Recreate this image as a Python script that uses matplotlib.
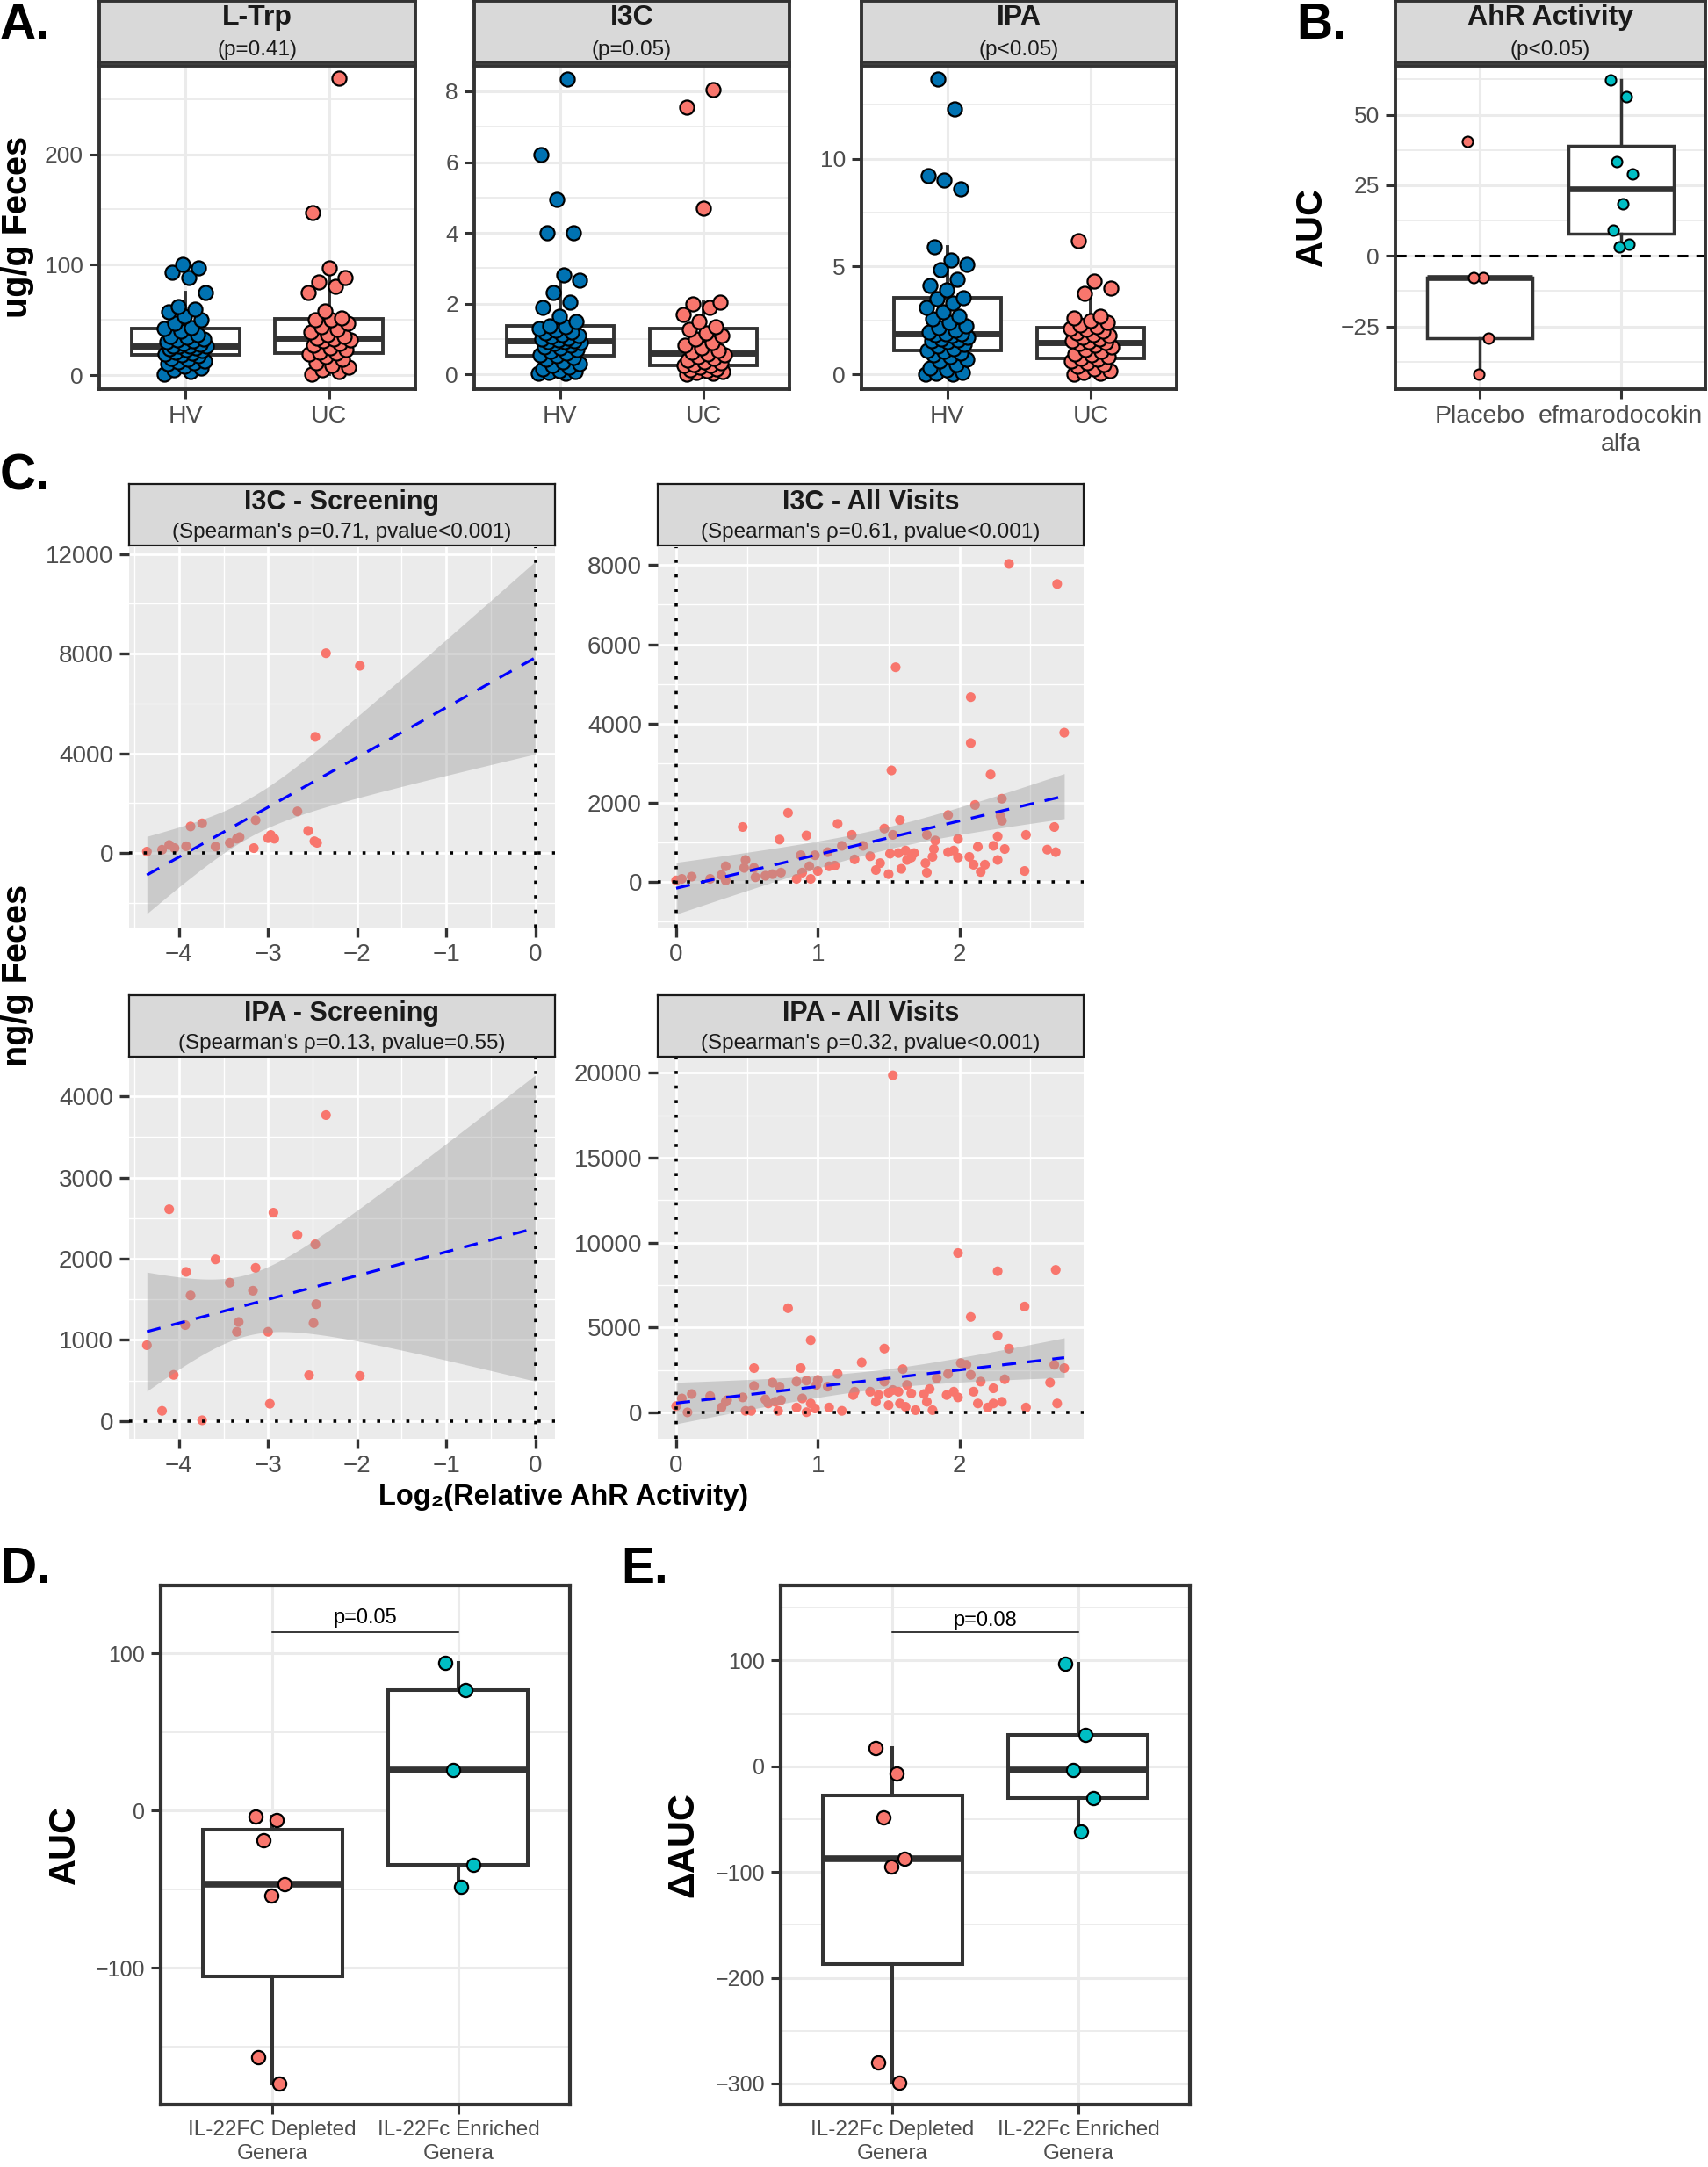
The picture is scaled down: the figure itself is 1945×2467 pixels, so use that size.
import numpy as np
import matplotlib
matplotlib.use('Agg')
import matplotlib.pyplot as plt
from matplotlib.ticker import FuncFormatter

plt.rcParams['font.family'] = ['Liberation Sans', 'DejaVu Sans']

# ---------------- DATA ----------------
groups_A = ['HV', 'UC']
ltrp_hv = [1, 3, 5, 6, 8, 10, 11, 12, 13, 14, 15, 17.5, 18.5, 19, 20, 21, 22, 23, 24, 25, 26, 26.5,
           26.55, 26.6, 28, 29, 30, 31, 32, 33, 34, 35, 37, 40, 42, 43, 47, 50, 53, 57, 60, 62, 75, 88,
           93, 97, 100]
ltrp_uc = [1, 3, 5, 7, 9, 11, 14, 17, 19, 20, 21, 23, 25, 27, 29, 31, 32, 33, 33.5, 35, 37, 39, 41,
           44, 47, 50, 50.5, 52, 58, 75, 80, 84, 88, 97, 147, 269]
i3c_hv = [0.02, 0.03, 0.05, 0.08, 0.1, 0.15, 0.2, 0.25, 0.3, 0.35, 0.42, 0.48, 0.52, 0.56, 0.6, 0.65,
          0.7, 0.74, 0.78, 0.82, 0.86, 0.9, 0.92, 0.93, 0.94, 0.97, 1.0, 1.03, 1.06, 1.1, 1.13, 1.16,
          1.2, 1.25, 1.3, 1.35, 1.38, 1.5, 1.65, 1.9, 2.05, 2.3, 2.65, 2.8, 4.0, 4.0, 4.95, 6.2, 8.35]
i3c_uc = [0.01, 0.03, 0.05, 0.08, 0.1, 0.13, 0.16, 0.19, 0.24, 0.25, 0.28, 0.32, 0.36, 0.4, 0.45, 0.5,
          0.55, 0.58, 0.62, 0.68, 0.75, 0.82, 0.9, 1.0, 1.1, 1.18, 1.27, 1.35, 1.5, 1.7, 1.9, 2.0,
          2.05, 4.7, 7.55, 8.05]
ipa_hv = [0.0, 0.02, 0.05, 0.1, 0.2, 0.3, 0.45, 0.6, 0.7, 0.8, 0.9, 1.0, 1.08, 1.12, 1.2, 1.3, 1.4,
          1.5, 1.55, 1.6, 1.65, 1.7, 1.78, 1.85, 1.87, 1.89, 1.95, 2.05, 2.15, 2.25, 2.4, 2.55, 2.7,
          2.9, 3.1, 3.3, 3.5, 3.55, 3.9, 4.1, 4.4, 4.85, 5.1, 5.3, 5.9, 8.6, 9.0, 9.2, 12.3, 13.7]
ipa_uc = [0.0, 0.03, 0.08, 0.15, 0.25, 0.35, 0.45, 0.55, 0.62, 0.7, 0.73, 0.8, 0.88, 0.95, 1.05, 1.15,
          1.25, 1.35, 1.42, 1.45, 1.49, 1.55, 1.62, 1.7, 1.78, 1.85, 1.92, 2.0, 2.08, 2.13, 2.2, 2.3,
          2.4, 2.5, 2.6, 2.7, 3.75, 4.0, 4.3, 6.2]

groups_B = ['Placebo', 'efmarodocokin\nalfa']
auc_placebo = [40.4, -7.6, -7.8, -29.0, -41.8]
auc_efmaro = [62.4, 56.3, 33.3, 28.9, 18.4, 9.2, 4.2, 3.1]

i3c_scr_x = [-4.36, -4.19, -4.11, -4.05, -3.92, -3.87, -3.74, -3.59, -3.43, -3.35, -3.32, -3.14, -3.16,
             -3.00, -2.97, -2.93, -2.67, -2.55, -2.48, -2.45, -2.47, -2.35, -1.97]
i3c_scr_y = [50, 126, 316, 190, 265, 1060, 1186, 252, 404, 568, 631, 1312, 190, 593, 719, 568, 1666,
             883, 467, 404, 4657, 8014, 7509]

i3c_all_x = [0.00, 0.04, 0.11, 0.24, 0.32, 0.35, 0.35, 0.47, 0.49, 0.48, 0.55, 0.56, 0.63, 0.68, 0.73,
             0.74, 0.79, 0.85, 0.88, 0.89, 0.92, 0.94, 0.95, 0.98, 1.00, 1.07, 1.08, 1.12, 1.14, 1.17,
             1.24, 1.26, 1.32, 1.37, 1.41, 1.44, 1.47, 1.50, 1.51, 1.52, 1.53, 1.55, 1.57, 1.58, 1.59,
             1.62, 1.63, 1.66, 1.68, 1.76, 1.77, 1.77, 1.81, 1.82, 1.83, 1.92, 1.92, 1.96, 1.99, 1.99,
             2.07, 2.08, 2.08, 2.10, 2.11, 2.13, 2.15, 2.18, 2.22, 2.24, 2.27, 2.27, 2.29, 2.30, 2.32,
             2.30, 2.35, 2.46, 2.47, 2.62, 2.67, 2.68, 2.69, 2.74]
i3c_all_y = [40, 79, 135, 79, 175, 397, 40, 1389, 556, 357, 357, 119, 159, 198, 1071, 238, 1746, 79,
             675, 238, 1175, 397, 79, 675, 278, 754, 397, 413, 1468, 913, 1190, 571, 913, 651, 302,
             476, 1349, 198, 714, 2818, 1190, 5421, 730, 1564, 333, 794, 556, 619, 730, 476, 238,
             1190, 635, 833, 1048, 1691, 754, 794, 1087, 619, 635, 4667, 3508, 437, 1945, 889, 254,
             437, 2714, 913, 1151, 556, 1667, 2103, 833, 1548, 8032, 278, 1190, 818, 1389, 754, 7524,
             3770]

ipa_scr_x = [-4.36, -4.19, -4.11, -4.06, -3.93, -3.92, -3.87, -3.74, -3.59, -3.43, -3.35, -3.33, -3.17,
             -3.14, -3.00, -2.98, -2.94, -2.67, -2.54, -2.49, -2.47, -2.46, -2.35, -1.97]
ipa_scr_y = [934, 124, 2610, 568, 1182, 1838, 1548, 8, 1992, 1705, 1099, 1220, 1606, 1888, 1099, 212,
             2568, 2294, 564, 1207, 2178, 1440, 3771, 556]

ipa_all_x = [0.00, 0.04, 0.08, 0.11, 0.24, 0.32, 0.35, 0.36, 0.47, 0.49, 0.53, 0.55, 0.55, 0.63, 0.65,
             0.68, 0.70, 0.73, 0.74, 0.72, 0.79, 0.85, 0.85, 0.88, 0.89, 0.92, 0.92, 0.95, 0.95, 0.98,
             1.00, 0.99, 1.08, 1.07, 1.14, 1.17, 1.25, 1.26, 1.31, 1.37, 1.41, 1.43, 1.47, 1.47, 1.50,
             1.50, 1.53, 1.57, 1.58, 1.60, 1.62, 1.63, 1.66, 1.69, 1.75, 1.77, 1.79, 1.81, 1.84, 1.91,
             1.92, 1.96, 1.99, 1.99, 2.01, 2.05, 2.08, 2.08, 2.10, 2.13, 2.15, 2.20, 2.24, 2.24, 2.27,
             2.27, 2.30, 2.32, 2.35, 2.46, 2.47, 2.64, 2.67, 2.68, 2.69, 2.74, 1.53]
ipa_all_y = [377, 832, 10, 1090, 971, 297, 634, 733, 892, 99, 99, 2616, 1566, 773, 535, 1764, 634, 1526,
             733, 99, 6144, 297, 1823, 2616, 832, 1883, 20, 4261, 535, 238, 1923, 1625, 297, 1526,
             2279, 99, 1031, 1229, 2953, 1229, 634, 1031, 3766, 1823, 436, 1169, 1328, 1229, 535, 2557,
             337, 1625, 1130, 139, 1090, 634, 1387, 139, 2022, 1031, 2279, 1229, 892, 9395, 2914, 2814,
             5629, 2220, 1229, 535, 1823, 297, 1427, 535, 4539, 8324, 634, 1962, 3766, 6243, 297, 1764,
             2814, 8404, 535, 2616, 19860]

groups_DE = ['IL-22FC Depleted\nGenera', 'IL-22Fc Enriched\nGenera']
groups_E = ['IL-22Fc Depleted\nGenera', 'IL-22Fc Enriched\nGenera']
d_depleted = [-3.8, -6.1, -18.7, -46.7, -54.0, -156.6, -173.5]
d_enriched = [93.7, 76.3, 25.8, -34.6, -48.5]
e_depleted = [17.2, -7.1, -48.3, -87.6, -95.1, -279.8, -299.3]
e_enriched = [97.0, 29.6, -3.4, -30.0, -61.4]

# ---------------- STYLE ----------------
W, H = 1945, 2467
DARK = '#333333'
TICKC = '#4D4D4D'
SALMON = '#F8766D'
TEAL = '#00BFC4'
BLUE = '#0072B2'
GRID = '#EBEBEB'

fig = plt.figure(figsize=(W / 100, H / 100), dpi=100)


def add_ax(l, t, r, b):
    return fig.add_axes([l / W, 1 - b / H, (r - l) / W, (b - t) / H])


def fmt(v, pos=None):
    s = f'{v:g}'
    return s.replace('-', '\u2212')


def strip(l, t, r, b, title, sub, tsize, ssize, tb, sb, lw, ec):
    ax = add_ax(l, t, r, b)
    ax.set_facecolor('#D9D9D9')
    ax.set_xticks([])
    ax.set_yticks([])
    for s in ax.spines.values():
        s.set_linewidth(lw)
        s.set_color(ec)
    ax.text(0.5, tb, title, transform=ax.transAxes, ha='center', va='baseline',
            fontsize=tsize, fontweight='bold', color='#1A1A1A')
    ax.text(0.5, sb, sub, transform=ax.transAxes, ha='center', va='baseline',
            fontsize=ssize, color='#1A1A1A')
    return ax


def jitter(n, w, k=0.0):
    return ((np.arange(n) * 0.6180339887 + k) % 1.0 - 0.5) * 2 * w


def box_panel(ax, data, colors, ylim, yticks, yminor, xlabels, psize, pew, blw, mlw, jw,
              frame_lw, tsize, xsize):
    ax.set_xlim(0.4, 2.6)
    ax.set_ylim(*ylim)
    ax.set_axisbelow(True)
    ax.boxplot(data, positions=[1, 2], widths=0.75, showfliers=False, showcaps=False,
               patch_artist=True, whis=1.5, zorder=2,
               boxprops=dict(facecolor='white', edgecolor=DARK, linewidth=blw),
               whiskerprops=dict(color=DARK, linewidth=blw),
               medianprops=dict(color=DARK, linewidth=mlw, solid_capstyle='butt'))
    for i, (vals, c) in enumerate(zip(data, colors)):
        vals = np.asarray(vals, float)
        xs = (i + 1) + jitter(len(vals), jw, 0.1 * i)
        ax.scatter(xs, vals, s=psize, c=c, edgecolors='black', linewidths=pew, zorder=3)
    ax.set_xticks([1, 2])
    ax.set_xticklabels(xlabels, linespacing=1.3)
    ax.set_yticks(yticks)
    ax.set_yticks(yminor, minor=True)
    ax.yaxis.set_major_formatter(FuncFormatter(fmt))
    ax.grid(which='major', color=GRID, lw=2.2)
    ax.grid(which='minor', axis='y', color=GRID, lw=1.3)
    ax.tick_params(which='major', length=8, width=2.2, color=DARK, labelcolor=TICKC, pad=5)
    ax.tick_params(axis='y', labelsize=tsize)
    ax.tick_params(axis='x', labelsize=xsize)
    ax.tick_params(which='minor', length=0)
    for s in ax.spines.values():
        s.set_linewidth(frame_lw)
        s.set_color(DARK)


# ---------------- PANEL A ----------------
A_specs = [
    ((113, 473), 'L-Trp', '(p=0.41)', [ltrp_hv, ltrp_uc], (-12.7, 280), [0, 100, 200], [50, 150, 250]),
    ((540, 899), 'I3C', '(p=0.05)', [i3c_hv, i3c_uc], (-0.42, 8.72), [0, 2, 4, 6, 8], [1, 3, 5, 7]),
    ((981, 1340), 'IPA', '(p<0.05)', [ipa_hv, ipa_uc], (-0.69, 14.3), [0, 5, 10], [2.5, 7.5, 12.5]),
]
for (l, r), title, sub, data, ylim, yt, ym in A_specs:
    strip(l, 1, r, 71, title, sub, 23, 17.5, 0.61, 0.11, 2.8, DARK)
    ax = add_ax(l, 75, r, 443)
    box_panel(ax, data, [BLUE, SALMON], ylim, yt, ym, groups_A, 135, 1.6, 2.8, 5.0, 0.15,
              2.8, 19, 20.5)

# ---------------- PANEL B ----------------
strip(1589, 1, 1942, 71, 'AhR Activity', '(p<0.05)', 23, 17.5, 0.61, 0.11, 2.8, DARK)
axB = add_ax(1589, 75, 1942, 443)
box_panel(axB, [auc_placebo, auc_efmaro], [SALMON, TEAL], (-47.2, 67.3), [-25, 0, 25, 50],
          [-37.5, -12.5, 12.5, 37.5, 62.5], groups_B, 75, 1.5, 2.5, 4.8, 0.09, 2.8, 19, 20.5)
axB.axhline(0, color='black', lw=2.2, ls=(0, (4, 3)), zorder=2.5)

# ---------------- PANEL C ----------------


def tq975(df):
    z = 1.959964
    g1 = (z ** 3 + z) / 4
    g2 = (5 * z ** 5 + 16 * z ** 3 + 3 * z) / 96
    g3 = (3 * z ** 7 + 19 * z ** 5 + 17 * z ** 3 - 15 * z) / 384
    return z + g1 / df + g2 / df ** 2 + g3 / df ** 3


def scatter_panel(ax, x, y, xlim, ylim, xt, xm, yt, ym):
    x = np.asarray(x, float)
    y = np.asarray(y, float)
    ax.set_facecolor(GRID)
    ax.set_xlim(*xlim)
    ax.set_ylim(*ylim)
    ax.set_axisbelow(True)
    ax.scatter(x, y, s=64, c=SALMON, edgecolors='none', zorder=2)
    n = len(x)
    b1, b0 = np.polyfit(x, y, 1)
    res = y - (b0 + b1 * x)
    s2 = np.sum(res ** 2) / (n - 2)
    xm_ = x.mean()
    sxx = np.sum((x - xm_) ** 2)
    xs = np.linspace(min(x.min(), 0), max(x.max(), 0), 200)
    yh = b0 + b1 * xs
    se = np.sqrt(s2 * (1.0 / n + (xs - xm_) ** 2 / sxx))
    t = tq975(n - 2)
    ax.fill_between(xs, yh - t * se, yh + t * se, color='#999999', alpha=0.4, lw=0, zorder=3)
    ax.axhline(0, color='black', lw=2.6, ls=(0, (1, 3.6)), zorder=4)
    ax.axvline(0, color='black', lw=2.6, ls=(0, (1, 3.6)), zorder=4)
    ax.plot(xs, yh, color='#0000FF', lw=2.3, ls=(0, (5, 4)), zorder=5)
    ax.set_xticks(xt)
    ax.set_xticks(xm, minor=True)
    ax.set_yticks(yt)
    ax.set_yticks(ym, minor=True)
    ax.xaxis.set_major_formatter(FuncFormatter(fmt))
    ax.yaxis.set_major_formatter(FuncFormatter(fmt))
    ax.grid(which='major', color='white', lw=2.0)
    ax.grid(which='minor', color='white', lw=1.0)
    for s in ax.spines.values():
        s.set_visible(False)
    ax.tick_params(which='major', length=8, width=2.4, color=DARK, labelcolor=TICKC,
                   labelsize=20, pad=5)
    ax.tick_params(which='minor', length=0)


LX_L, LX_R = 147, 632
RX_L, RX_R = 749, 1234
tt_sz = 22
sub_sz = 17.5
strip(LX_L, 551, LX_R, 621, 'I3C - Screening', "(Spearman's \u03c1=0.71, pvalue<0.001)", tt_sz, sub_sz,
      0.59, 0.13, 1.6, '#1A1A1A')
axC1 = add_ax(LX_L, 623, LX_R, 1056)
scatter_panel(axC1, i3c_scr_x, i3c_scr_y, (-4.56, 0.22), (-3000, 12270), [-4, -3, -2, -1, 0],
              [-4.5, -3.5, -2.5, -1.5, -0.5], [0, 4000, 8000, 12000], [-2000, 2000, 6000, 10000])

strip(RX_L, 551, RX_R, 621, 'I3C - All Visits', "(Spearman's \u03c1=0.61, pvalue<0.001)", tt_sz, sub_sz,
      0.59, 0.13, 1.6, '#1A1A1A')
axC2 = add_ax(RX_L, 623, RX_R, 1056)
scatter_panel(axC2, i3c_all_x, i3c_all_y, (-0.13, 2.877), (-1151, 8452), [0, 1, 2], [0.5, 1.5, 2.5],
              [0, 2000, 4000, 6000, 8000], [-1000, 1000, 3000, 5000, 7000])

strip(LX_L, 1133, LX_R, 1203, 'IPA - Screening', "(Spearman's \u03c1=0.13, pvalue=0.55)", tt_sz, sub_sz,
      0.59, 0.13, 1.6, '#1A1A1A')
axC3 = add_ax(LX_L, 1205, LX_R, 1638)
scatter_panel(axC3, ipa_scr_x, ipa_scr_y, (-4.56, 0.22), (-220, 4469), [-4, -3, -2, -1, 0],
              [-4.5, -3.5, -2.5, -1.5, -0.5], [0, 1000, 2000, 3000, 4000], [500, 1500, 2500, 3500])

strip(RX_L, 1133, RX_R, 1203, 'IPA - All Visits', "(Spearman's \u03c1=0.32, pvalue<0.001)", tt_sz, sub_sz,
      0.59, 0.13, 1.6, '#1A1A1A')
axC4 = add_ax(RX_L, 1205, RX_R, 1638)
scatter_panel(axC4, ipa_all_x, ipa_all_y, (-0.13, 2.877), (-1546, 20851), [0, 1, 2], [0.5, 1.5, 2.5],
              [0, 5000, 10000, 15000, 20000], [2500, 7500, 12500, 17500])

# ---------------- PANELS D, E ----------------
axD = add_ax(183, 1805, 649, 2396)
box_panel(axD, [d_depleted, d_enriched], [SALMON, TEAL], (-187, 143), [-100, 0, 100],
          [-150, -50, 50], groups_DE, 120, 1.6, 2.9, 5.5, 0.09, 3.0, 18, 17.5)
axD.plot([1, 2], [113.6, 113.6], color='black', lw=1.1)
axD.text(1.5, 116, 'p=0.05', ha='center', va='bottom', fontsize=17, color='black')

axE = add_ax(889, 1805, 1355, 2396)
box_panel(axE, [e_depleted, e_enriched], [SALMON, TEAL], (-320, 171), [-300, -200, -100, 0, 100],
          [-250, -150, -50, 50, 150], groups_E, 120, 1.6, 2.9, 5.5, 0.09, 3.0, 18, 17.5)
axE.plot([1, 2], [126.6, 126.6], color='black', lw=1.1)
axE.text(1.5, 129, 'p=0.08', ha='center', va='bottom', fontsize=17, color='black')

# ---------------- FIGURE TEXT ----------------


def ftext(x, y, s, **kw):
    fig.text(x / W, 1 - y / H, s, **kw)


LET = 41
ftext(0, 44, 'A.', fontsize=LET, fontweight='bold', ha='left', va='baseline')
ftext(1476, 44, 'B.', fontsize=LET, fontweight='bold', ha='left', va='baseline')
ftext(0, 558, 'C.', fontsize=LET, fontweight='bold', ha='left', va='baseline')
ftext(0, 1802, 'D.', fontsize=LET, fontweight='bold', ha='left', va='baseline')
ftext(707, 1802, 'E.', fontsize=LET, fontweight='bold', ha='left', va='baseline')

ftext(20, 258, 'ug/g Feces', fontsize=28.5, fontweight='bold', rotation=90, ha='center', va='center')
ftext(1494, 258, 'AUC', fontsize=30, fontweight='bold', rotation=90, ha='center', va='center')
ftext(20, 1110, 'ng/g Feces', fontsize=28.5, fontweight='bold', rotation=90, ha='center', va='center')
ftext(642, 1704, 'Log\u2082(Relative AhR Activity)', fontsize=23.5, fontweight='bold',
      ha='center', va='center')
ftext(74, 2100, 'AUC', fontsize=30, fontweight='bold', rotation=90, ha='center', va='center')
ftext(778, 2100, '\u0394AUC', fontsize=30, fontweight='bold', rotation=90, ha='center', va='center')

fig.savefig('out.png', dpi=100, facecolor='white')
